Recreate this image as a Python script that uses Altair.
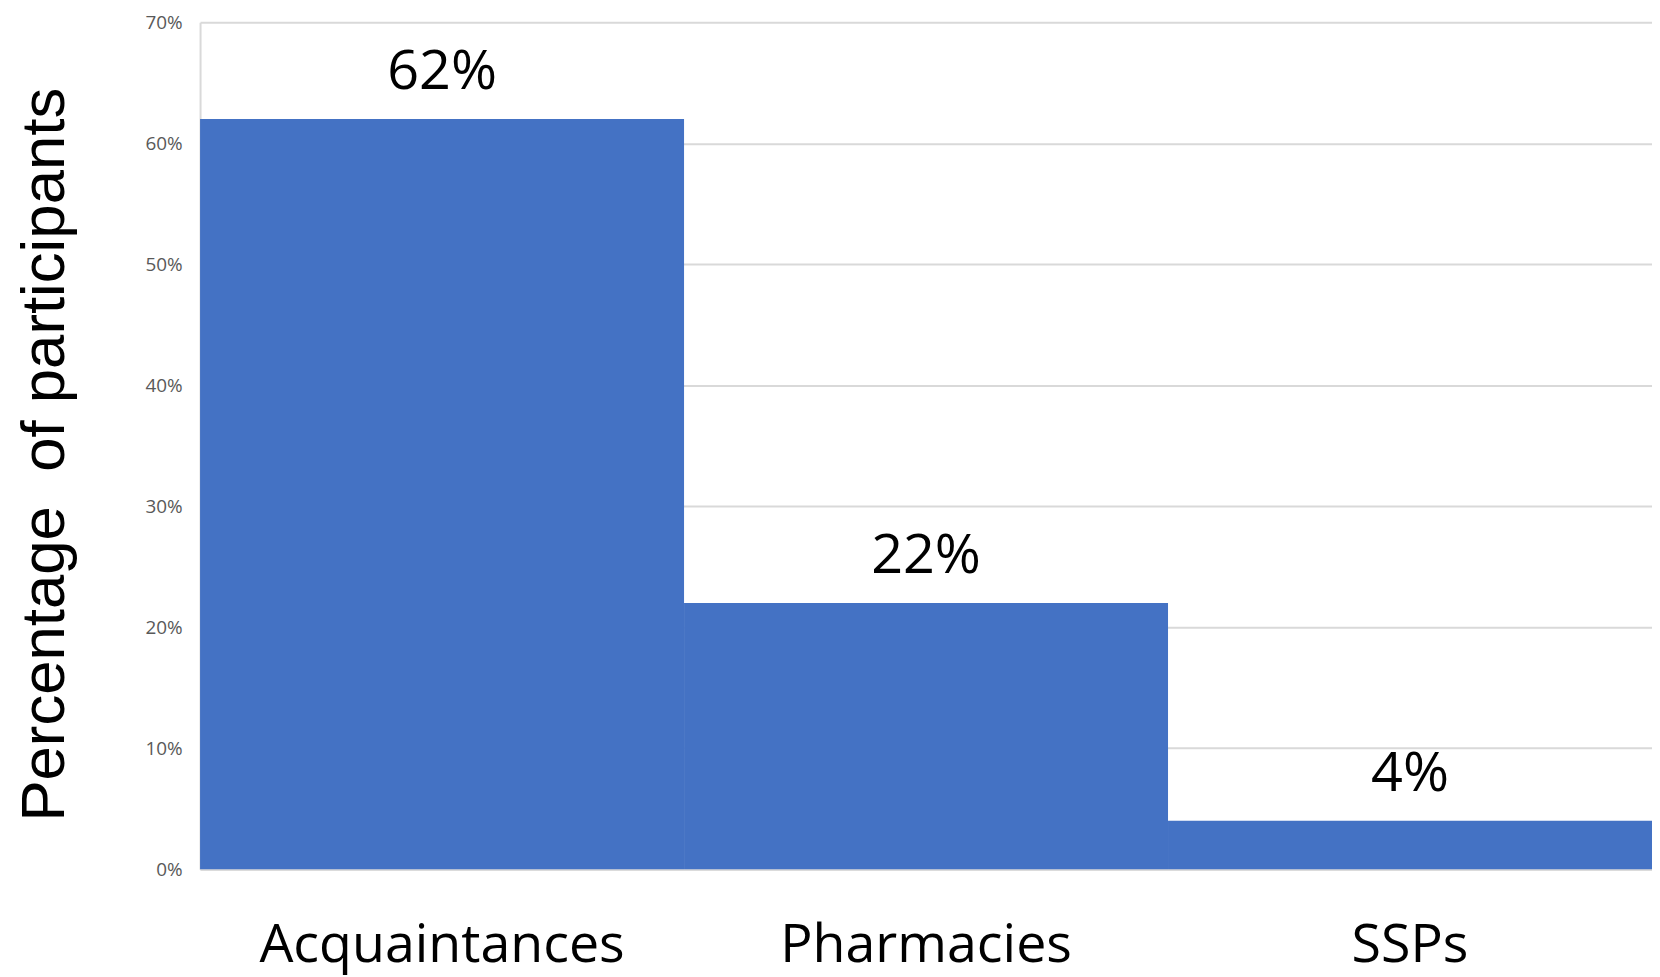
import altair as alt
import pandas as pd

categories = ["Acquaintances", "Pharmacies", "SSPs"]
values = [0.62, 0.22, 0.04]

df = pd.DataFrame({"category": categories, "value": values})

base = alt.Chart(df).encode(
    x=alt.X(
        "category:N",
        sort=categories,
        scale=alt.Scale(paddingInner=0, paddingOuter=0),
        axis=alt.Axis(
            title=None,
            labelAngle=0,
            labelFont="Open Sans",
            labelFontSize=54,
            labelColor="#000000",
            labelPadding=50,
            labelLimit=0,
            ticks=False,
            domainColor="#d9d9d9",
            domainWidth=2,
        ),
    ),
    y=alt.Y(
        "value:Q",
        scale=alt.Scale(domain=[0, 0.7]),
        axis=alt.Axis(
            title="Percentage \u00a0of participants",
            titleFont="Liberation Sans",
            titleFontSize=62,
            titleFontWeight="normal",
            titleColor="#000000",
            titleAngle=270,
            titleAlign="center",
            titleBaseline="middle",
            titleX=-156,
            titleY=434,
            values=[0, 0.1, 0.2, 0.3, 0.4, 0.5, 0.6, 0.7],
            format=".0%",
            labelFont="Open Sans",
            labelFontSize=19,
            labelColor="#595959",
            labelPadding=18,
            ticks=False,
            gridColor="#d9d9d9",
            gridWidth=2,
            domainColor="#d9d9d9",
            domainWidth=2,
        ),
    ),
)

bars = base.mark_bar(color="#4472C4")

labels = base.mark_text(
    font="Open Sans",
    fontSize=56,
    color="#000000",
    baseline="alphabetic",
    dy=-30,
).encode(text=alt.Text("value:Q", format=".0%"))

chart = (
    (bars + labels)
    .properties(
        width=1459,
        height=851,
        autosize=alt.AutoSizeParams(type="none"),
        padding={"left": 193, "top": 12, "right": 0, "bottom": 106},
    )
    .configure_view(stroke=None)
)

chart.save("out.html", embed_options={"renderer": "svg", "actions": False})
